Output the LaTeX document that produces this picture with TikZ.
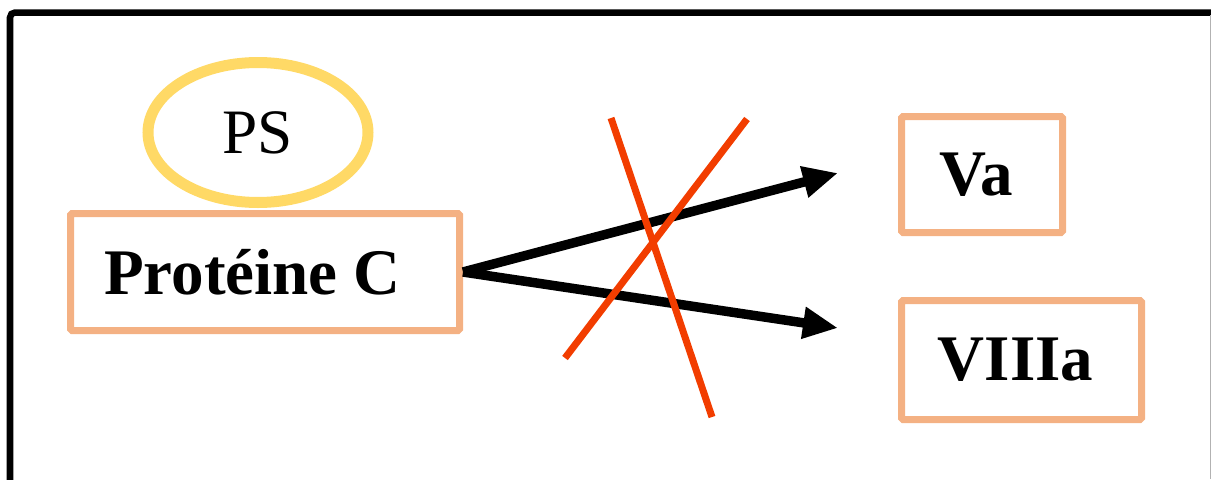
\documentclass[tikz,border=0pt]{standalone}
\usepackage{fontspec}
\setmainfont{Liberation Serif}
\usetikzlibrary{shapes,positioning,arrows.meta}
\definecolor{boxorange}{HTML}{F4B183}
\definecolor{psyellow}{HTML}{FFD966}
\definecolor{crossred}{HTML}{F23D00}

\begin{document}
\begin{tikzpicture}[
    box/.style={draw=boxorange, line width=0.14cm, rounded corners=0.03cm, inner sep=0pt,
                font=\bfseries\fontsize{37}{40}\selectfont},
    arr/.style={line width=0.19cm, -{Triangle[length=0.7cm, width=0.6cm]}},
    cross/.style={draw=crossred, line width=0.14cm}]
         \useasboundingbox (0, 0) rectangle (24.22, -9.58);
         \draw [line width=0.13cm, rounded corners=0.1cm] (0.2, -10) |- (24.6, -0.25);
         \draw [gray!60, line width=0.02cm] (24.2, -0.3) -- (24.2, -9.58);
         \node (PS) [ellipse, draw=psyellow, line width=0.22cm, minimum width=4.4cm,
                     minimum height=2.8cm, font=\fontsize{36}{40}\selectfont] at (5.16, -2.65) {PS};
         \node (PC) [box, minimum width=7.78cm, minimum height=2.34cm] at (5.3, -5.44) {Protéine C\hspace*{0.5cm}};
         \node (Va) [box, minimum width=3.22cm, minimum height=2.32cm] at (19.64, -3.49) {Va\hspace*{0.24cm}};
         \node (VIIIa) [box, minimum width=4.8cm, minimum height=2.38cm] at (20.43, -7.2) {VIIIa\hspace*{0.24cm}};
         \coordinate (tVa) at (16.76, -3.46);
         \coordinate (tVIIIa) at (16.76, -6.56);
         \draw [arr] (PC.east) -- (tVa);
         \draw [arr] (PC.east) -- (tVIIIa);
         \coordinate (XA1) at (12.22, -2.36);
         \coordinate (XA2) at (14.24, -8.34);
         \coordinate (XB1) at (14.94, -2.38);
         \coordinate (XB2) at (11.3, -7.16);
         \draw [cross] (XA1) -- (XA2);
         \draw [cross] (XB1) -- (XB2);
\end{tikzpicture}
\end{document}
